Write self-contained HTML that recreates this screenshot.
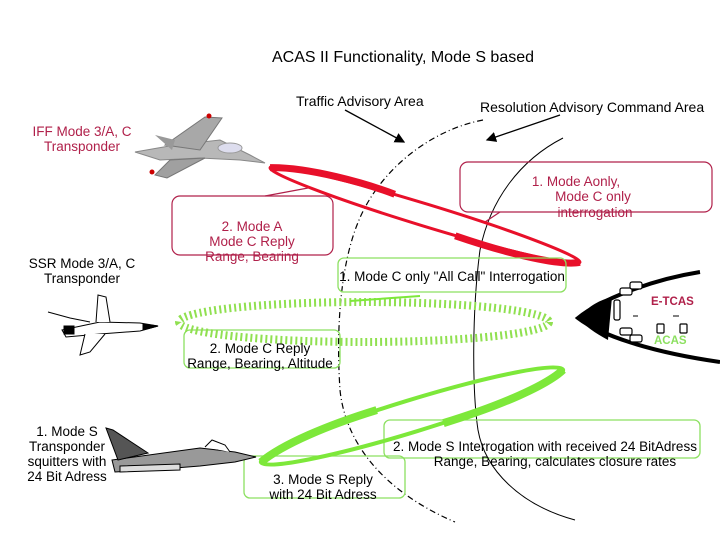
<!DOCTYPE html>
<html><head><meta charset="utf-8"><style>
html,body{margin:0;padding:0;background:#fff;}
svg{display:block;font-family:"Liberation Sans",Arial,sans-serif;}
</style></head><body>
<svg width="720" height="540" viewBox="0 0 720 540" xmlns="http://www.w3.org/2000/svg">
<defs>
<marker id="ah" markerWidth="8" markerHeight="8" refX="7" refY="4" orient="auto"><path d="M0,0 L8,4 L0,8 z" fill="#000"/></marker>
</defs>
<rect width="720" height="540" fill="#fff"/>
<text x="403" y="62" font-size="16" text-anchor="middle" fill="#000">ACAS II Functionality,  Mode S based</text>
<text x="296" y="106" font-size="14" fill="#000">Traffic Advisory Area</text>
<text x="480" y="112" font-size="14" fill="#000">Resolution Advisory Command Area</text>
<line x1="345" y1="110" x2="404" y2="142" stroke="#000" stroke-width="1.3" marker-end="url(#ah)"/>
<line x1="560" y1="115" x2="487" y2="140" stroke="#000" stroke-width="1.3" marker-end="url(#ah)"/>

<path d="M483,120 C430,130 380,170 359,220 C340,265 336,330 340,390 C345,440 380,490 455,522" fill="none" stroke="#000" stroke-width="1.2" stroke-dasharray="6,3,1,3"/>
<path d="M563,138 C520,160 490,200 480,250 C472,310 472,390 478,430 C485,470 520,505 575,520" fill="none" stroke="#000" stroke-width="1"/>

<path d="M700,272 C650,280 600,300 578,318 C600,335 650,352 720,362" fill="none" stroke="#000" stroke-width="4"/>
<path d="M578,318 C590,305 600,300 612,297 L608,340 C595,333 585,326 578,318 z" fill="#000"/>
<g fill="#fff" stroke="#000" stroke-width="1.2">
<rect x="620" y="288" width="12" height="7" rx="2"/><rect x="630" y="282" width="12" height="7" rx="2"/>
<rect x="614" y="300" width="6" height="20" rx="2"/>
<rect x="620" y="328" width="12" height="7" rx="2"/><rect x="630" y="335" width="12" height="7" rx="2"/>
<rect x="657" y="324" width="7" height="9" rx="1"/><rect x="680" y="324" width="7" height="9" rx="1"/>
</g>
<line x1="633" y1="316" x2="638" y2="316" stroke="#000"/><line x1="673" y1="316" x2="679" y2="316" stroke="#000"/>
<text x="651" y="305" font-size="11.5" font-weight="bold" fill="#b0204a">E-TCAS</text>
<text x="654" y="344" font-size="11.5" font-weight="bold" fill="#8ce060">ACAS</text>

<g fill="none" stroke="#b0204a" stroke-width="1.2">
<rect x="172" y="196" width="161" height="59" rx="8"/>
<rect x="460" y="162" width="252" height="50" rx="8"/>
<path d="M265,196 L308,188"/><path d="M500,212 L485,222"/>
</g>
<g transform="rotate(17 425 215)">
<ellipse cx="425" cy="215" rx="162" ry="11" fill="none" stroke="#e8102a" stroke-width="3"/>
<path d="M263,215 C300,203 360,202 390,204" fill="none" stroke="#e8102a" stroke-width="7"/>
<path d="M460,226 C520,228 570,224 587,215" fill="none" stroke="#e8102a" stroke-width="7"/>
</g>
<g font-size="13.5" fill="#b0204a" text-anchor="middle">
<text x="252" y="231">2. Mode A</text><text x="252" y="246">Mode C Reply</text><text x="252" y="261">Range, Bearing</text>
<text x="576" y="186">1. Mode Aonly,</text><text x="593" y="201">Mode C only</text><text x="595" y="217">interrogation</text>
</g>

<g fill="none" stroke="#8ce060" stroke-width="1.3">
<rect x="338" y="258" width="228" height="34" rx="6"/>
<rect x="184" y="330" width="156" height="38" rx="6"/>
<rect x="384" y="420" width="316" height="38" rx="6"/>
<rect x="244" y="456" width="161" height="42" rx="6"/>
</g>
<ellipse cx="364" cy="322" rx="185" ry="20" fill="none" stroke="#90e050" stroke-width="8" stroke-dasharray="2,3"/>
<path d="M350,301 L420,296" stroke="#7de83a" stroke-width="2"/>
<g transform="rotate(-17 412 416)">
<ellipse cx="412" cy="416" rx="158" ry="16" fill="none" stroke="#7de83a" stroke-width="4"/>
<path d="M254,416 C280,405 330,400 380,400" fill="none" stroke="#7de83a" stroke-width="8"/>
<path d="M440,432 C500,432 550,426 570,416" fill="none" stroke="#7de83a" stroke-width="8"/>
</g>
<g font-size="13.5" fill="#000" text-anchor="middle">
<text x="452" y="281">1. Mode C only "All Call" Interrogation</text>
<text x="260" y="353">2. Mode C Reply</text><text x="260" y="368">Range, Bearing, Altitude</text>
<text x="545" y="451">2. Mode S Interrogation with received 24 BitAdress</text>
<text x="555" y="466">Range, Bearing, calculates closure rates</text>
<text x="323" y="484">3. Mode S Reply</text><text x="323" y="499">with 24 Bit Adress</text>
</g>

<g font-size="13.5" text-anchor="middle">
<text x="82" y="136" fill="#b0204a">IFF Mode 3/A, C</text><text x="82" y="151" fill="#b0204a">Transponder</text>
<text x="82" y="268">SSR Mode 3/A, C</text><text x="82" y="283">Transponder</text>
<text x="67" y="436">1. Mode S</text><text x="67" y="451">Transponder</text><text x="67" y="466">squitters with</text><text x="67" y="481">24 Bit Adress</text>
</g>

<g>
<path d="M135,152 L175,145 L220,140 L250,155 L265,163 L240,160 L200,158 L160,160 z" fill="#b8b8b8" stroke="#888"/>
<path d="M165,145 L205,117 L222,118 L200,150 z" fill="#a8a8a8" stroke="#777"/>
<path d="M170,160 L155,175 L167,178 L205,158 z" fill="#a0a0a0" stroke="#777"/>
<path d="M155,135 L175,140 L172,150 z" fill="#999"/>
<ellipse cx="230" cy="148" rx="12" ry="5" fill="#dde" stroke="#999"/>
<circle cx="209" cy="116" r="2.5" fill="#c00"/><circle cx="152" cy="172" r="2.5" fill="#c00"/>
</g>
<g fill="#fff" stroke="#000" stroke-width="1">
<path d="M62,330 L100,322 L140,323 L158,326 L140,331 L100,334 L66,337 z"/>
<path d="M96,322 L98,295 L106,297 L110,322"/>
<path d="M85,334 L80,355 L90,352 L105,334"/>
<path d="M48,312 L70,318 L90,322"/>
<path d="M64,326 L74,326 L74,334 L64,334 z" fill="#000"/>
<path d="M143,324 L158,326 L143,330 z" fill="#000"/>
</g>
<g>
<path d="M112,460 L200,448 L235,452 L256,457 L235,462 L200,466 L150,470 L115,472 z" fill="#999" stroke="#000"/>
<path d="M106,428 L113,430 L148,453 L118,460 z" fill="#555" stroke="#000"/>
<path d="M120,466 L180,464 L180,470 L120,472 z" fill="#ddd" stroke="#000"/>
<path d="M205,447 L212,440 L225,445 L230,452" fill="#fff" stroke="#000"/>
</g>
</svg>
</body></html>
